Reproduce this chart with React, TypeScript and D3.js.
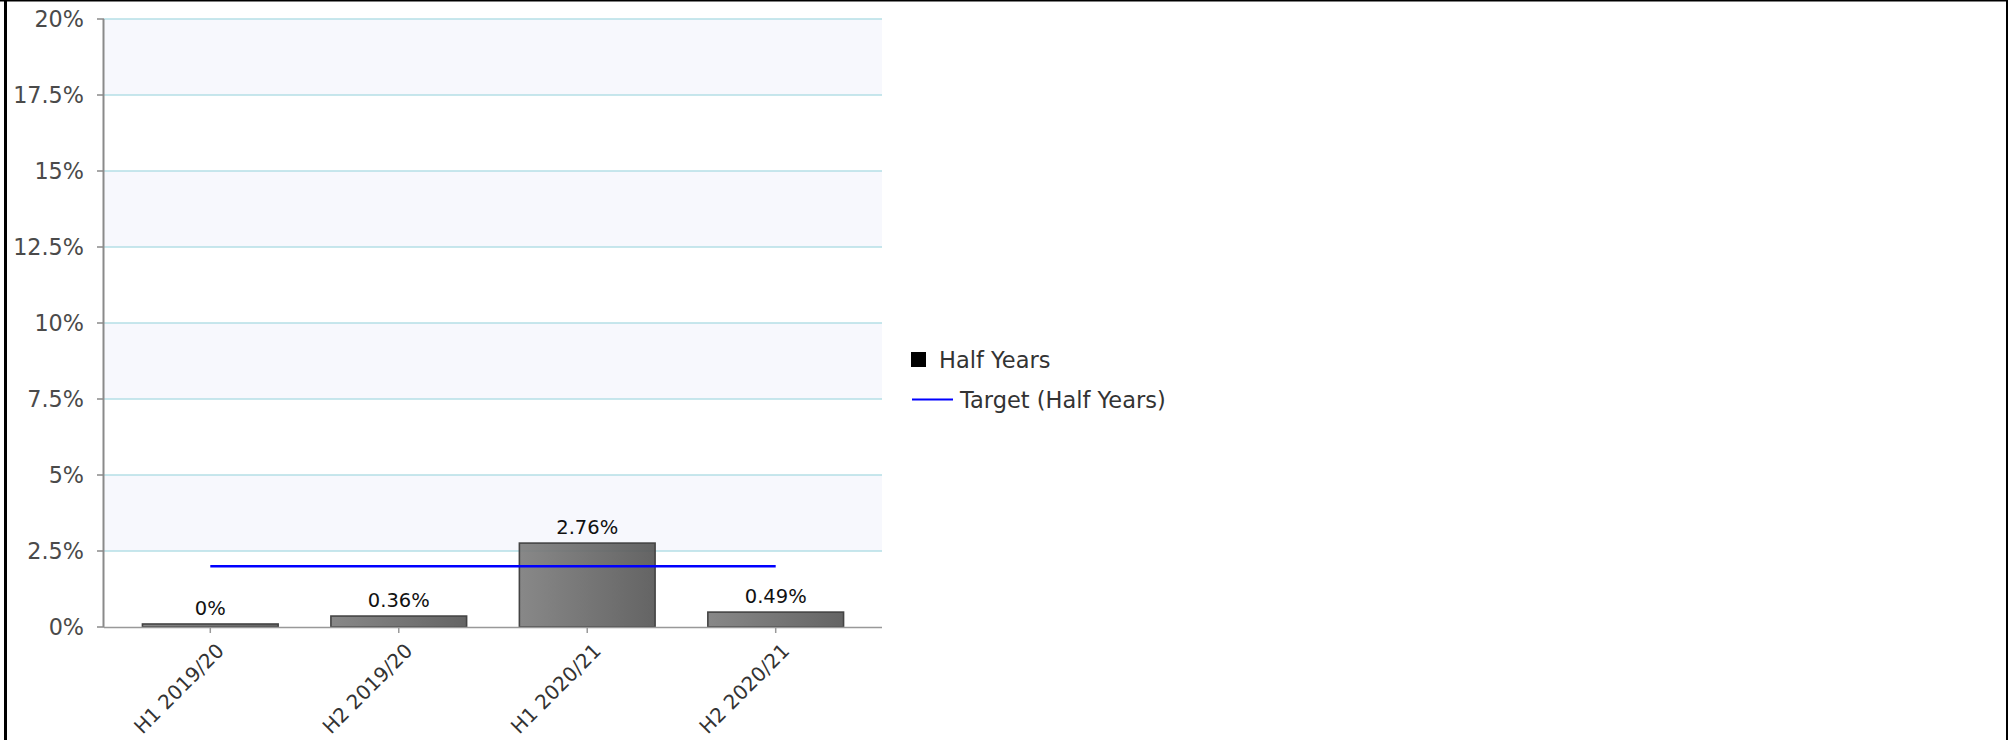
import React from "react";
import * as d3 from "d3";

const categories = ["H1 2019/20", "H2 2019/20", "H1 2020/21", "H2 2020/21"];
const halfYears = [0, 0.36, 2.76, 0.49];
const target = [2, 2, 2, 2];
const yTicks = [0, 2.5, 5, 7.5, 10, 12.5, 15, 17.5, 20];
const legendItems = ["Half Years", "Target (Half Years)"];

const W = 2008;
const H = 740;
const X0 = 104;
const X1 = 882;
const YT = 19;
const YB = 627;
const FONT = "'DejaVu Sans', Verdana, sans-serif";

export default function App() {
  const x = d3.scalePoint<string>().domain(categories).range([X0, X1]).padding(0.564);
  const y = d3.scaleLinear().domain([0, 20]).range([YB, YT]);
  const step = x.step();
  const bw = step * 0.72;
  const fmt = (v: number) => `${v}%`;
  const line = d3
    .line<number>()
    .x((_, i) => x(categories[i]) as number)
    .y((d) => y(d));

  return (
    <div style={{ position: "fixed", left: 0, top: 0 }}>
      <svg width={W} height={H} style={{ display: "block", background: "#fff" }}>
        <defs>
          <linearGradient id="barGrad" x1="0" x2="1" y1="0" y2="0">
            <stop offset="0" stopColor="#7e7e7e" />
            <stop offset="1" stopColor="#575757" />
          </linearGradient>
        </defs>
        {/* background bands */}
        {yTicks.slice(0, -1).map((t, i) =>
          i % 2 === 1 ? (
            <rect
              key={"b" + i}
              x={X0}
              y={y(yTicks[i + 1])}
              width={X1 - X0}
              height={y(t) - y(yTicks[i + 1])}
              fill="#f7f8fd"
            />
          ) : null
        )}
        {/* grid */}
        {yTicks.slice(1).map((t) => (
          <line key={"g" + t} x1={X0} x2={X1} y1={y(t)} y2={y(t)} stroke="#b4dfe6" strokeWidth={1.6} />
        ))}
        {/* y axis */}
        <line x1={X0 - 0.5} x2={X0 - 0.5} y1={YT} y2={YB} stroke="#8a8a8a" strokeWidth={2} />
        {yTicks.map((t) => (
          <g key={"yt" + t}>
            <line x1={X0 - 7} x2={X0} y1={y(t)} y2={y(t)} stroke="#8a8a8a" strokeWidth={1.5} />
            <text
              x={84}
              y={y(t)}
              dy="0.36em"
              textAnchor="end"
              fontFamily={FONT}
              fontSize={22.3}
              fill="#4a4a4a"
            >
              {fmt(t)}
            </text>
          </g>
        ))}
        {/* bars */}
        {halfYears.map((v, i) => {
          const cx = x(categories[i]) as number;
          const top = Math.min(y(v), YB - 3);
          return (
            <g key={"bar" + i}>
              <rect
                x={cx - bw / 2}
                y={top}
                width={bw}
                height={YB - top}
                fill="url(#barGrad)"
                fillOpacity={0.92}
                stroke="#444"
                strokeWidth={1.6}
              />
              <text
                x={cx}
                y={top - 9}
                textAnchor="middle"
                fontFamily={FONT}
                fontSize={19.5}
                fill="#111"
              >
                {fmt(v)}
              </text>
            </g>
          );
        })}
        {/* x axis */}
        <line x1={X0} x2={X1} y1={YB + 0.5} y2={YB + 0.5} stroke="#999" strokeWidth={1.5} />
        {categories.map((c) => {
          const cx = x(c) as number;
          return (
            <g key={"xt" + c}>
              <line x1={cx} x2={cx} y1={YB} y2={YB + 6} stroke="#999" strokeWidth={1.5} />
              <text
                transform={`translate(${cx + 15},${YB + 25}) rotate(-45)`}
                textAnchor="end"
                fontFamily={FONT}
                fontSize={20}
                fill="#333"
              >
                {c}
              </text>
            </g>
          );
        })}
        {/* target line */}
        <path d={line(target) || ""} fill="none" stroke="#0000ff" strokeWidth={2.5} />
        {/* legend */}
        <rect x={911} y={352} width={15} height={15} fill="#000" />
        <text x={939} y={368} fontFamily={FONT} fontSize={22.5} fill="#333">
          {legendItems[0]}
        </text>
        <line x1={912} x2={953} y1={399.5} y2={399.5} stroke="#0000ff" strokeWidth={2} />
        <text x={960} y={408} fontFamily={FONT} fontSize={22.5} fill="#333">
          {legendItems[1]}
        </text>
        {/* frame */}
        <rect x={4} y={0} width={3} height={H} fill="#000" />
        <rect x={0} y={0} width={W} height={1.5} fill="#000" />
        <rect x={W - 2} y={0} width={2} height={H} fill="#000" />
      </svg>
    </div>
  );
}
